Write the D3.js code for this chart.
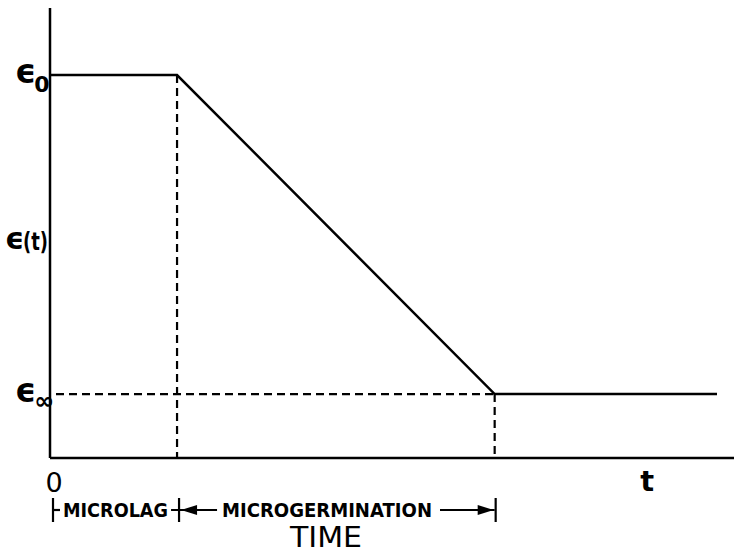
<!DOCTYPE html>
<html>
<head>
<meta charset="utf-8">
<script src="https://cdn.jsdelivr.net/npm/d3@7"></script>
<style>
  body { margin: 0; background: #fff; }
  text { font-family: "DejaVu Sans", sans-serif; fill: #000; }
</style>
</head>
<body>
<div id="chart"></div>
<script>
// breakpoints of the curve (time units) and epsilon values
let times = [0, 2, 7, 10.5]
let epsilon = [1, 1, 0.167, 0.167]
let phases = ["MICROLAG", "MICROGERMINATION"]
let yLabels = [{v: 1, main: "\u03f5", sub: "0"}, {v: 0.167, main: "\u03f5", sub: "\u221e"}]

let width = 734, height = 554

let svg = d3.select("#chart")
  .append("svg")
    .attr("width", width)
    .attr("height", height)

let x = d3.scaleLinear().domain([0, 10.5]).range([50, 717])
let y = d3.scaleLinear().domain([0, 1]).range([458, 75])

let pts = times.map((t, i) => ({t: t, e: epsilon[i]}))
let sw = 2.5

// axes
svg.append("line")
  .attr("x1", x(0)).attr("x2", x(0))
  .attr("y1", y(1.175)).attr("y2", y(0))
  .attr("stroke", "#000").attr("stroke-width", sw)
svg.append("line")
  .attr("x1", x(0)).attr("x2", width)
  .attr("y1", y(0)).attr("y2", y(0))
  .attr("stroke", "#000").attr("stroke-width", sw)

// dashed guides
let dash = "8,5"
svg.append("line")
  .attr("x1", x(0) + 6).attr("x2", x(times[2]))
  .attr("y1", y(epsilon[2])).attr("y2", y(epsilon[2]))
  .attr("stroke", "#000").attr("stroke-width", 2.2).attr("stroke-dasharray", dash)
;[1, 2].forEach(i => {
  svg.append("line")
    .attr("x1", x(times[i])).attr("x2", x(times[i]))
    .attr("y1", y(epsilon[i])).attr("y2", y(0))
    .attr("stroke", "#000").attr("stroke-width", 2.2).attr("stroke-dasharray", dash)
})

// curve
svg.append("path")
  .datum(pts)
  .attr("fill", "none")
  .attr("stroke", "#000")
  .attr("stroke-width", sw)
  .attr("d", d3.line().x(d => x(d.t)).y(d => y(d.e)))

// y labels
yLabels.forEach(l => {
  let t = svg.append("text")
    .attr("x", 15)
    .attr("y", y(l.v) + 8)
    .style("font-size", "33px")
    .style("font-weight", "bold")
  t.append("tspan").text(l.main)
  t.append("tspan").attr("dx", -2).attr("dy", l.sub == "0" ? 9 : 7)
    .style("font-size", l.sub == "0" ? "22px" : "24px").text(l.sub)
})
svg.append("text")
  .attr("x", 5)
  .attr("y", 249)
  .style("font-size", "30px")
  .style("font-weight", "bold")
  .text("\u03f5")
svg.append("text")
  .attr("x", 23)
  .attr("y", 250)
  .attr("textLength", 25).attr("lengthAdjust", "spacingAndGlyphs")
  .style("font-size", "25px")
  .style("font-weight", "bold")
  .text("(t)")

// x labels
svg.append("text")
  .attr("x", x(0) + 4).attr("y", 492)
  .attr("text-anchor", "middle")
  .style("font-size", "27px")
  .text("0")
svg.append("text")
  .attr("x", x(9.4)).attr("y", 491)
  .attr("text-anchor", "middle")
  .style("font-size", "29px")
  .style("font-weight", "bold")
  .text("t")

// phase brackets
let by = 510
let bracket = svg.append("g")
  .attr("stroke", "#000").attr("stroke-width", 2.2)
;[x(0) + 3, x(times[1]) + 2, x(times[2]) + 1].forEach(px => {
  bracket.append("line")
    .attr("x1", px).attr("x2", px)
    .attr("y1", by - 12).attr("y2", by + 12)
})
bracket.append("line")
  .attr("x1", x(0) + 3).attr("x2", x(0) + 10)
  .attr("y1", by).attr("y2", by)
bracket.append("line")
  .attr("x1", x(times[1]) - 6).attr("x2", x(times[1]) + 40)
  .attr("y1", by).attr("y2", by)
bracket.append("line")
  .attr("x1", 440).attr("x2", x(times[2]))
  .attr("y1", by).attr("y2", by)
// arrow heads
svg.append("path")
  .attr("d", `M${x(times[1]) + 4},${by} l16,-5 l0,10 z`)
svg.append("path")
  .attr("d", `M${x(times[2]) - 1},${by} l-16,-5 l0,10 z`)

svg.append("text")
  .attr("x", 63).attr("y", by + 7)
  .attr("textLength", 105).attr("lengthAdjust", "spacingAndGlyphs")
  .style("font-size", "19px").style("font-weight", "bold")
  .text(phases[0])
svg.append("text")
  .attr("x", 222).attr("y", by + 7)
  .attr("textLength", 210).attr("lengthAdjust", "spacingAndGlyphs")
  .style("font-size", "19px").style("font-weight", "bold")
  .text(phases[1])

svg.append("text")
  .attr("x", 290).attr("y", 547)
  .attr("textLength", 72).attr("lengthAdjust", "spacingAndGlyphs")
  .style("font-size", "28px")
  .text("TIME")
</script>
</body>
</html>
